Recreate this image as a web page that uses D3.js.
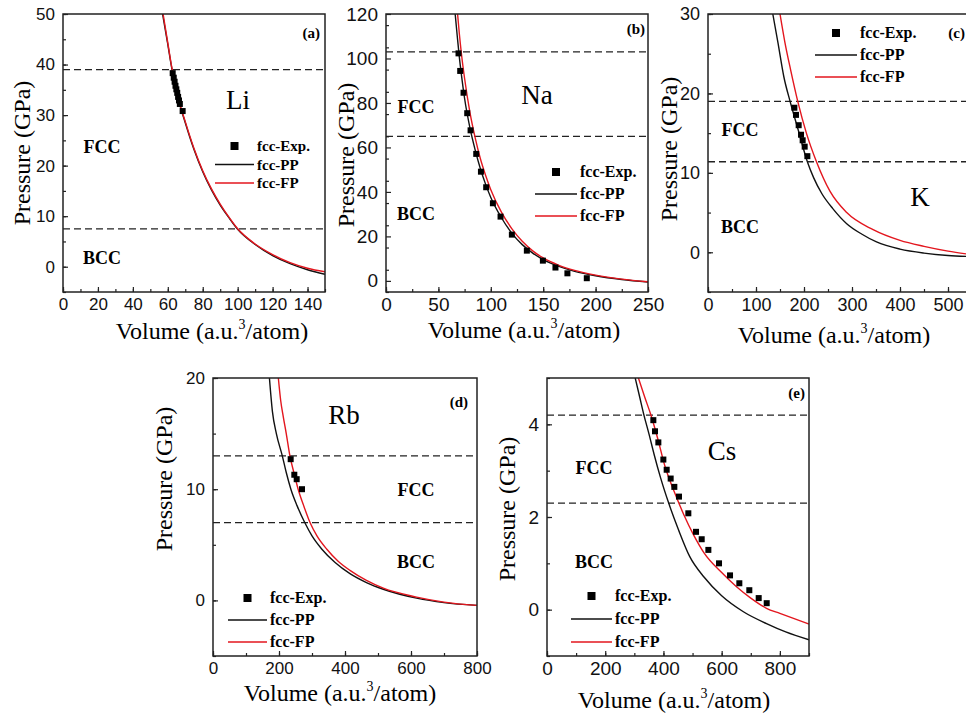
<!DOCTYPE html>
<html>
<head>
<meta charset="utf-8">
<style>
body { margin: 0; background: #fff; }
svg { display: block; }
</style>
</head>
<body>
<svg id="fig" width="966" height="721"></svg>
<script src="https://cdn.jsdelivr.net/npm/d3@7"></script>
<script>

// ---- data: [volume (a.u.^3/atom), pressure (GPa)] ----
var liPP = [[57,50],[60,44],[62,39.8],[65,34.5],[70,28.5],[75,23.2],[80,18.8],[85,15.2],[90,12.2],[95,9.7],[100,7.4],[110,4.4],[120,2.2],[130,0.6],[140,-0.6],[150,-1.5]];
var liFP = [[57.3,50],[60,44.3],[62,40],[65,34.7],[70,28.7],[75,23.4],[80,19],[85,15.4],[90,12.4],[95,9.8],[100,7.5],[110,4.5],[120,2.4],[130,0.8],[140,-0.3],[150,-1.0]];
var liExp = [[62.8,38.3],[63.4,37.4],[63.9,36.6],[64.4,35.8],[64.9,35.1],[65.4,34.4],[65.9,33.6],[66.4,32.9],[66.9,32.2],[68.5,30.8]];
var liBounds = [39, 7.5];

var naPP = [[66,120],[68,110],[70,100.5],[72,92.5],[75,82],[80,69],[85,59],[90,50.5],[95,43.5],[100,37.5],[110,28.5],[120,21.5],[130,16.3],[140,12.5],[150,9.6],[165,6.5],[180,4.3],[200,2.3],[225,0.6],[250,-0.5]];
var naFP = [[68.3,120],[70,111],[72,102],[75,91],[80,76],[85,64.5],[90,55],[95,47.5],[100,41],[110,31],[120,23.5],[130,17.8],[140,13.5],[150,10.3],[165,7],[180,4.7],[200,2.6],[225,0.8],[250,-0.4]];
var naExp = [[69.2,102.3],[70.8,94.4],[74,84.6],[77.5,75.4],[80.7,67.7],[86.1,57.1],[90.6,49.1],[95.6,42.1],[102,34.9],[109.3,28.9],[120.1,20.8],[134.4,13.6],[149.7,9.1],[161.7,6.0],[173.1,3.4],[191.6,1.2]];
var naBounds = [103, 65];

var kPP = [[135,30],[146,26.3],[158,22.1],[171,19],[188,15.4],[207,11.4],[220,9.4],[237,7.4],[260,5.5],[289,3.6],[320,2.3],[351,1.3],[400,0.4],[450,-0.1],[500,-0.4],[550,-0.55]];
var kFP = [[150,30],[160,26.5],[172,23],[187,19],[205,15],[226,11.4],[254,7.7],[289,5.0],[344,2.85],[400,1.5],[450,0.75],[500,0.15],[550,-0.3]];
var kExp = [[179.9,18.2],[183.3,17.3],[188.9,16.0],[193.8,14.8],[197.2,14.1],[201.4,13.3],[207,12.1]];
var kBounds = [19, 11.4];

var rbPP = [[171,20],[180,17],[192,15],[210,13],[222,11.5],[236,10],[255,8.5],[278,7],[300,5.8],[330,4.6],[370,3.4],[415,2.4],[465,1.6],[516,1.0],[617,0.2],[700,-0.2],[800,-0.45]];
var rbFP = [[198,20],[205,18],[213,16.5],[222,15],[233,13],[245,11.5],[258,10],[275,8.5],[294,7],[315,5.8],[345,4.6],[380,3.5],[415,2.7],[465,1.8],[516,1.1],[617,0.3],[700,-0.15],[800,-0.45]];
var rbExp = [[235.4,12.7],[246.4,11.3],[253.6,10.9],[269.7,10.0]];
var rbBounds = [13, 7];

var csPP = [[303,5],[318,4.6],[333,4.2],[350,3.8],[368,3.35],[390,2.85],[418,2.3],[452,1.72],[490,1.15],[540,0.7],[600,0.3],[676,-0.05],[754,-0.3],[820,-0.48],[900,-0.65]];
var csFP = [[314,5],[335,4.6],[357,4.2],[380,3.7],[405,3.1],[440,2.5],[470,2.05],[503,1.62],[540,1.22],[600,0.8],[650,0.5],[700,0.25],[754,0.03],[800,-0.08],[900,-0.31]];
var csExp = [[365.3,4.09],[371,3.85],[382.5,3.61],[399.7,3.24],[411.1,3.02],[424.8,2.83],[437.4,2.65],[453.4,2.44],[485.5,2.08],[511.9,1.68],[531.4,1.52],[554.3,1.29],[590.9,1.00],[628.7,0.74],[660.7,0.57],[695,0.42],[727.2,0.25],[754.7,0.14]];
var csBounds = [4.2, 2.3];

var seriesNames = ["fcc-Exp.", "fcc-PP", "fcc-FP"];
var red = "#e3161e";

// ---- panel layout ----
var panels = [
  { tag: "a", el: "Li", pp: liPP, fp: liFP, exp: liExp, bounds: liBounds,
    box: [63, 14, 325, 292], xDomain: [0, 150], yDomain: [-5, 50], tickFont: 17,
    xTicks: [0,20,40,60,80,100,120,140], xMinor: 10, yTicks: [0,10,20,30,40,50], yMinor: 5,
    elPos: [238, 100], letterPos: [320, 38], fcc: [102, 147], bcc: [102, 258],
    legend: { x: 215, len: 39, y: 146, dy: 18.5, size: 15 },
    xt: [212, 339], yt: [22, 153] },
  { tag: "b", el: "Na", pp: naPP, fp: naFP, exp: naExp, bounds: naBounds,
    box: [386, 14, 648, 292], xDomain: [0, 250], yDomain: [-5, 120], tickFont: 19,
    xTicks: [0,50,100,150,200,250], xMinor: 25, yTicks: [0,20,40,60,80,100,120], yMinor: 10,
    elPos: [537, 95], letterPos: [645, 34], fcc: [416, 107], bcc: [416, 214],
    legend: { x: 535, len: 42, y: 172, dy: 22, size: 16 },
    xt: [524, 338], yt: [346, 155] },
  { tag: "c", el: "K", pp: kPP, fp: kFP, exp: kExp, bounds: kBounds,
    box: [708, 14, 972, 292], xDomain: [0, 550], yDomain: [-5, 30], tickFont: 18,
    xTicks: [0,100,200,300,400,500], xMinor: 50, yTicks: [0,10,20,30], yMinor: 5,
    elPos: [920, 197], letterPos: [965, 38], fcc: [740, 130], bcc: [740, 227],
    legend: { x: 815, len: 42, y: 33, dy: 22, size: 16 },
    xt: [834, 343], yt: [669, 149] },
  { tag: "d", el: "Rb", pp: rbPP, fp: rbFP, exp: rbExp, bounds: rbBounds,
    box: [213, 378, 477, 656], xDomain: [0, 800], yDomain: [-5, 20], tickFont: 17,
    xTicks: [0,200,400,600,800], xMinor: 100, yTicks: [0,10,20], yMinor: 5,
    elPos: [344, 415], letterPos: [468, 407], fcc: [416, 490], bcc: [416, 562],
    legend: { x: 228, len: 39, y: 598, dy: 22, size: 16 },
    xt: [340, 701], yt: [164, 479] },
  { tag: "e", el: "Cs", pp: csPP, fp: csFP, exp: csExp, bounds: csBounds,
    box: [547, 378, 809, 656], xDomain: [0, 900], yDomain: [-1, 5], tickFont: 19,
    xTicks: [0,200,400,600,800], xMinor: 100, yTicks: [0,2,4], yMinor: 1,
    elPos: [722, 451], letterPos: [805, 398], fcc: [594, 468], bcc: [594, 562],
    legend: { x: 571, len: 41, y: 596, dy: 23, size: 16 },
    xt: [674, 708], yt: [507, 509] }
];

var serifFont = "'Liberation Serif', 'Times New Roman', serif";
var sansFont = "'Liberation Sans', Arial, sans-serif";
var svg = d3.select("#fig");
var defs = svg.append("defs");

panels.forEach(drawPanel);

function drawPanel(p) {
  var b = p.box;
  var x = d3.scaleLinear().domain(p.xDomain).range([b[0], b[2]]);
  var y = d3.scaleLinear().domain(p.yDomain).range([b[3], b[1]]);
  var g = svg.append("g");

  defs.append("clipPath").attr("id", "clip-" + p.tag)
    .append("rect").attr("x", b[0]).attr("y", b[1])
    .attr("width", b[2] - b[0]).attr("height", b[3] - b[1]);

  // phase boundaries
  g.selectAll(".bound").data(p.bounds).enter().append("line")
    .attr("x1", b[0]).attr("x2", b[2])
    .attr("y1", function(d) { return y(d); })
    .attr("y2", function(d) { return y(d); })
    .attr("stroke", "#222").attr("stroke-width", 1.3)
    .attr("stroke-dasharray", "7,4");

  var line = d3.line()
    .x(function(d) { return x(d[0]); })
    .y(function(d) { return y(d[1]); })
    .curve(d3.curveMonotoneX);

  var plot = g.append("g").attr("clip-path", "url(#clip-" + p.tag + ")");
  plot.append("path").datum(p.pp).attr("d", line)
    .attr("fill", "none").attr("stroke", "#111").attr("stroke-width", 1.4);
  plot.append("path").datum(p.fp).attr("d", line)
    .attr("fill", "none").attr("stroke", red).attr("stroke-width", 1.4);
  plot.selectAll(".exp").data(p.exp).enter().append("rect")
    .attr("x", function(d) { return x(d[0]) - 3; })
    .attr("y", function(d) { return y(d[1]) - 3; })
    .attr("width", 6).attr("height", 6).attr("fill", "#000");

  // axes, ticks pointing inward
  var fmt = function(d) { return String(d); };
  var xMinor = d3.range(p.xDomain[0], p.xDomain[1] + 1e-9, p.xMinor);
  var yMinor = d3.range(p.yDomain[0], p.yDomain[1] + 1e-9, p.yMinor);
  var ax = [
    g.append("g").attr("transform", "translate(0," + b[3] + ")")
      .call(d3.axisBottom(x).tickValues(xMinor).tickSize(-3).tickSizeOuter(0).tickFormat("")),
    g.append("g").attr("transform", "translate(0," + b[3] + ")")
      .call(d3.axisBottom(x).tickValues(p.xTicks).tickSize(-5).tickSizeOuter(0).tickPadding(6).tickFormat(fmt)),
    g.append("g").attr("transform", "translate(" + b[0] + ",0)")
      .call(d3.axisLeft(y).tickValues(yMinor).tickSize(-3).tickSizeOuter(0).tickFormat("")),
    g.append("g").attr("transform", "translate(" + b[0] + ",0)")
      .call(d3.axisLeft(y).tickValues(p.yTicks).tickSize(-5).tickSizeOuter(0).tickPadding(8).tickFormat(fmt))
  ];
  ax.forEach(function(a) {
    a.select(".domain").remove();
    a.selectAll(".tick line").attr("stroke", "#222").attr("stroke-width", 1.2);
    a.selectAll(".tick text").attr("font-family", sansFont).attr("font-size", p.tickFont).attr("fill", "#111");
  });

  g.append("rect").attr("x", b[0]).attr("y", b[1])
    .attr("width", b[2] - b[0]).attr("height", b[3] - b[1])
    .attr("fill", "none").attr("stroke", "#222").attr("stroke-width", 1.5);

  // labels
  g.append("text").attr("font-family", serifFont)
    .attr("x", p.elPos[0]).attr("y", p.elPos[1] + 9)
    .attr("text-anchor", "middle").attr("font-size", 27).text(p.el);
  g.append("text").attr("font-family", serifFont)
    .attr("x", p.letterPos[0]).attr("y", p.letterPos[1])
    .attr("text-anchor", "end").attr("font-size", 15).attr("font-weight", "bold")
    .text("(" + p.tag + ")");
  [[p.fcc, "FCC"], [p.bcc, "BCC"]].forEach(function(t) {
    g.append("text").attr("font-family", serifFont)
      .attr("x", t[0][0]).attr("y", t[0][1] + 6)
      .attr("text-anchor", "middle").attr("font-size", 18).attr("font-weight", "bold")
      .text(t[1]);
  });

  // legend
  var L = p.legend;
  g.append("rect").attr("x", L.x + L.len / 2 - 4).attr("y", L.y - 4)
    .attr("width", 8).attr("height", 8).attr("fill", "#000");
  g.append("line").attr("x1", L.x).attr("x2", L.x + L.len)
    .attr("y1", L.y + L.dy).attr("y2", L.y + L.dy)
    .attr("stroke", "#111").attr("stroke-width", 1.4);
  g.append("line").attr("x1", L.x).attr("x2", L.x + L.len)
    .attr("y1", L.y + 2 * L.dy).attr("y2", L.y + 2 * L.dy)
    .attr("stroke", red).attr("stroke-width", 1.4);
  seriesNames.forEach(function(s, i) {
    g.append("text").attr("font-family", serifFont)
      .attr("x", L.x + L.len + 3).attr("y", L.y + i * L.dy + 5)
      .attr("font-size", L.size).attr("font-weight", "bold").text(s);
  });

  // axis titles
  var xt = g.append("text").attr("font-family", serifFont)
    .attr("x", p.xt[0]).attr("y", p.xt[1])
    .attr("text-anchor", "middle").attr("font-size", 24);
  xt.append("tspan").text("Volume (a.u.");
  xt.append("tspan").attr("dy", -10).attr("font-size", 14).text("3");
  xt.append("tspan").attr("dy", 10).text("/atom)");

  g.append("text").attr("font-family", serifFont)
    .attr("transform", "translate(" + p.yt[0] + "," + p.yt[1] + ") rotate(-90)")
    .attr("text-anchor", "middle").attr("dy", "0.35em")
    .attr("font-size", 24).text("Pressure (GPa)");
}

</script>
</body>
</html>
